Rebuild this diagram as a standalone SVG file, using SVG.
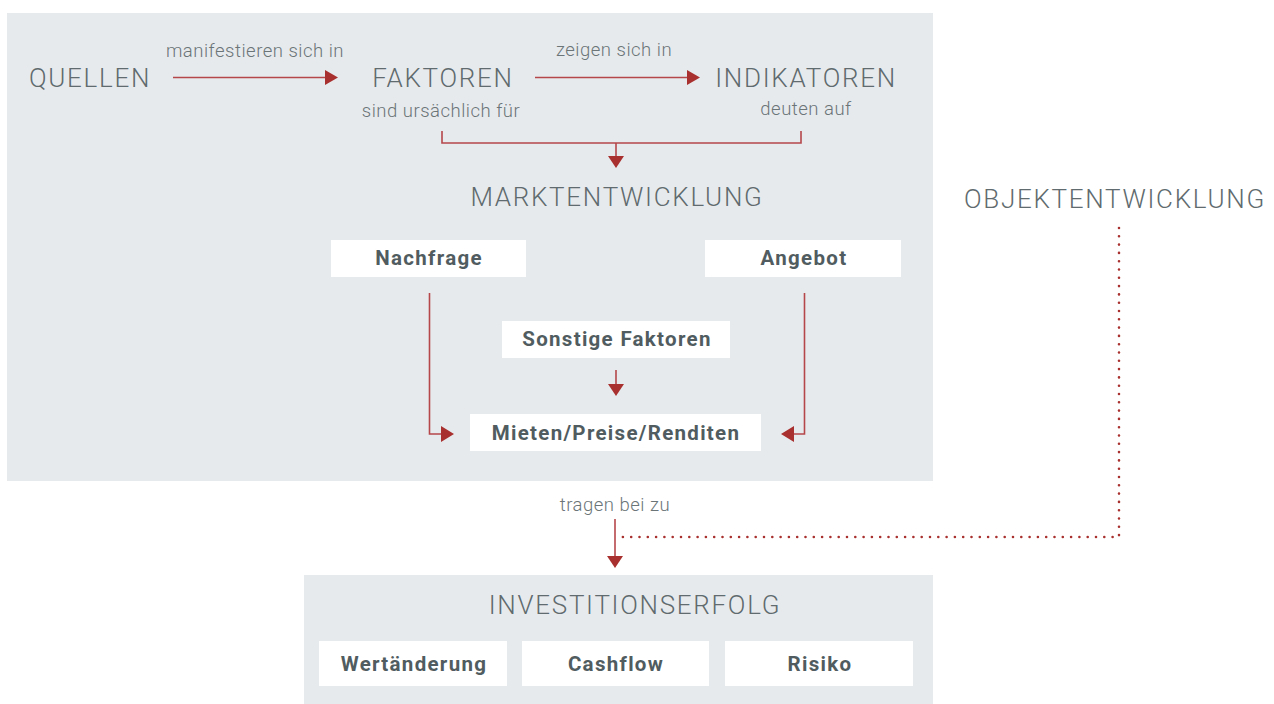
<svg xmlns="http://www.w3.org/2000/svg" width="1274" height="704" viewBox="0 0 1274 704">
<style>
.panel{fill:#e7eaed}
.box{fill:#ffffff}
.cap{font-family:Roboto,"Liberation Sans",sans-serif;font-weight:300;font-size:26px;fill:#5f6b6e;letter-spacing:1.7px}
.lbl{font-family:Roboto,"Liberation Sans",sans-serif;font-weight:300;font-size:18.5px;fill:#6b7578;letter-spacing:0.5px}
.bx{font-family:Roboto,"Liberation Sans",sans-serif;font-weight:700;font-size:20.5px;fill:#505c60;text-anchor:middle;letter-spacing:1.3px}
.ln{fill:none;stroke:#b5474a;stroke-width:1.6}
.dot{fill:none;stroke:#a8302e;stroke-width:2.6;stroke-linecap:round;stroke-dasharray:0 8.3}
.hd{fill:#a8302e}
</style>
<rect class="panel" x="7" y="13" width="926" height="468"/>
<rect class="panel" x="304" y="575" width="629" height="129"/>

<g id="quellen"><text class="cap" x="29" y="87">QUELLEN</text></g>
<g id="faktoren"><text class="cap" x="443" y="87" text-anchor="middle">FAKTOREN</text></g>
<g id="indikatoren"><text class="cap" x="806" y="87" text-anchor="middle">INDIKATOREN</text></g>
<g id="marktentwicklung"><text class="cap" x="617" y="206" text-anchor="middle">MARKTENTWICKLUNG</text></g>
<g id="objektentwicklung"><text class="cap" x="1115" y="208" text-anchor="middle">OBJEKTENTWICKLUNG</text></g>

<g id="nachfrage"><rect class="box" x="331" y="240" width="195" height="37"/><text class="bx" x="429" y="265">Nachfrage</text></g>
<g id="angebot"><rect class="box" x="705" y="240" width="196" height="37"/><text class="bx" x="804" y="265">Angebot</text></g>
<g id="sonstige"><rect class="box" x="502" y="321" width="228" height="37"/><text class="bx" x="617" y="346">Sonstige Faktoren</text></g>
<g id="mieten"><rect class="box" x="470" y="414" width="291" height="37"/><text class="bx" x="616" y="440">Mieten/Preise/Renditen</text></g>

<g id="investitionserfolg">
<text class="cap" x="635" y="614" text-anchor="middle">INVESTITIONSERFOLG</text>
<rect class="box" x="319" y="641" width="188" height="45"/><text class="bx" x="414" y="671">Wertänderung</text>
<rect class="box" x="522" y="641" width="187" height="45"/><text class="bx" x="616" y="671">Cashflow</text>
<rect class="box" x="725" y="641" width="188" height="45"/><text class="bx" x="820" y="671">Risiko</text>
</g>

<g id="connectors">
<text class="lbl" x="255" y="57" text-anchor="middle">manifestieren sich in</text>
<path class="ln" d="M173 77.5H326"/>
<path class="hd" d="M325 70L338 77.5L325 85Z"/>
<text class="lbl" x="614" y="56" text-anchor="middle">zeigen sich in</text>
<path class="ln" d="M535 77.5H688"/>
<path class="hd" d="M687 70L700 77.5L687 85Z"/>
<text class="lbl" x="441" y="117" text-anchor="middle">sind ursächlich für</text>
<text class="lbl" x="806" y="115" text-anchor="middle">deuten auf</text>
<path class="ln" d="M442 131V143H801V131M616 143V158"/>
<path class="hd" d="M608 156H624L616 168Z"/>
<path class="ln" d="M429.5 293V434H442"/>
<path class="hd" d="M441 426L454 434L441 442Z"/>
<path class="ln" d="M804.5 293V434H793"/>
<path class="hd" d="M794 426L781 434L794 442Z"/>
<path class="ln" d="M616 370V385"/>
<path class="hd" d="M608 384H624L616 396Z"/>
<text class="lbl" x="615" y="511" text-anchor="middle">tragen bei zu</text>
<path class="ln" d="M615 519V557"/>
<path class="hd" d="M607 556H623L615 568Z"/>
<path class="dot" d="M1119 228V537H620"/>
</g>
</svg>
